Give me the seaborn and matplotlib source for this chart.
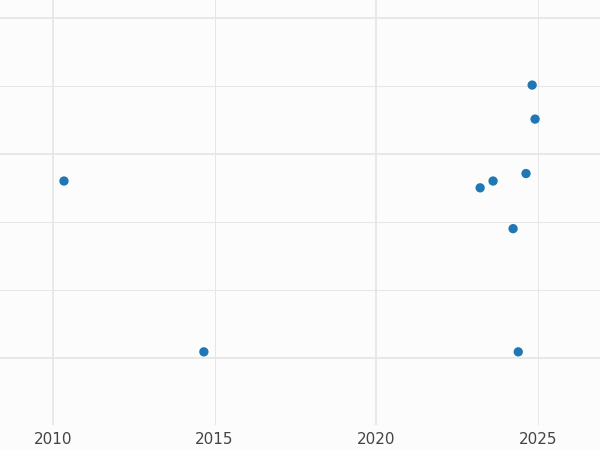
import matplotlib
matplotlib.use("Agg")
import matplotlib.pyplot as plt
import seaborn as sns
import pandas as pd

years = [2010.34, 2014.67, 2023.22, 2023.62, 2024.24, 2024.40, 2024.64, 2024.83, 2024.92]
values = [2.60, 0.09, 2.50, 2.60, 1.90, 0.09, 2.71, 4.01, 3.51]
xticks = [2010, 2015, 2020, 2025]

df = pd.DataFrame({"year": years, "value": values})
sns.set_style("white")
fig = plt.figure(figsize=(6, 4.5), dpi=100)
fig.patch.set_facecolor("#fcfcfc")
ax = fig.add_axes([0, 25/450, 1, 425/450])
ax.set_facecolor("#fcfcfc")
for y, lw in [(0, 1.3), (1, 0.7), (2, 0.7), (3, 1.3), (4, 0.7), (5, 1.3)]:
    ax.axhline(y, color="#e6e6e6", lw=lw, zorder=0)
for x, lw in [(2010, 1.3), (2015, 0.7), (2020, 1.3), (2025, 0.7)]:
    ax.axvline(x, color="#e6e6e6", lw=lw, zorder=0)
sns.scatterplot(data=df, x="year", y="value", ax=ax, color="#1f77b4", s=45, edgecolor="none", zorder=3)
ax.set_xlim(2008.36, 2026.93)
ax.set_ylim(-0.985, 5.26)
ax.set_xticks(xticks)
ax.set_xticklabels([str(t) for t in xticks], color="#444444", fontsize=11)
ax.set_yticks([])
ax.tick_params(axis="x", length=0, pad=5)
ax.set_xlabel(""); ax.set_ylabel("")
for s in ax.spines.values():
    s.set_visible(False)
fig.savefig("out.png", dpi=100, facecolor=fig.get_facecolor())
